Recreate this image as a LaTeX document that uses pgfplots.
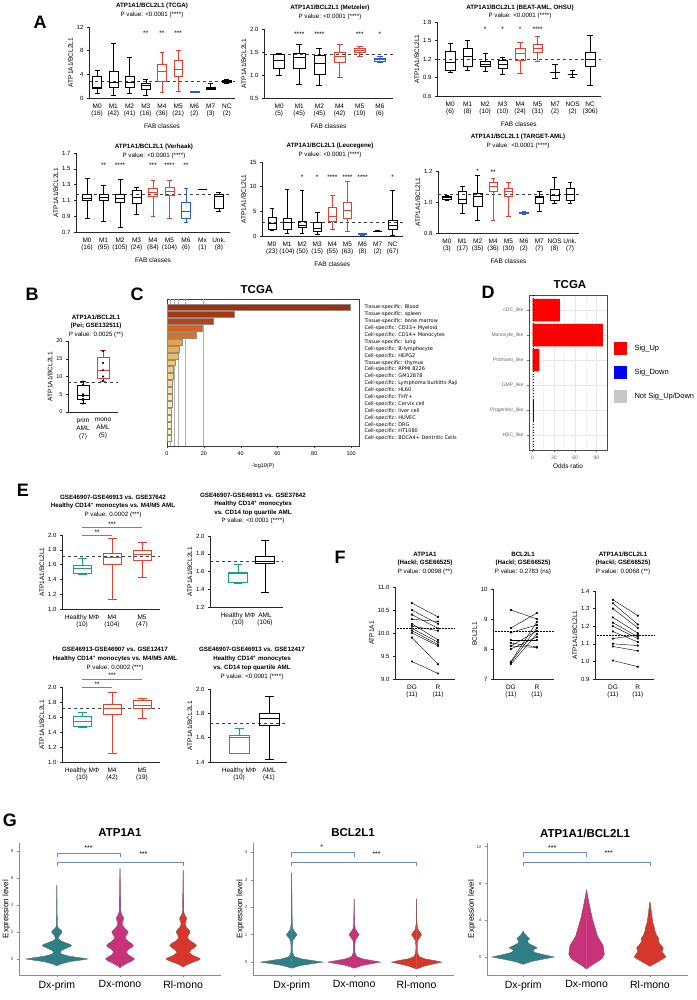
\documentclass[border=0pt]{standalone}
\usepackage{fontspec}
\setmainfont{Liberation Sans}
\newfontfamily\dv{DejaVu Sans}
\usepackage{pgfplots}
\usepackage{pgfplotstable}
\pgfplotsset{compat=1.18}
\usepgfplotslibrary{statistics}

\definecolor{gpred}{RGB}{236,60,45}
\definecolor{gpblue}{RGB}{40,90,235}
\definecolor{gpgreen}{RGB}{30,160,120}
\definecolor{vteal}{RGB}{46,128,134}
\definecolor{vmag}{RGB}{200,50,122}
\definecolor{vred}{RGB}{214,55,42}
\definecolor{brk}{RGB}{105,140,200}

\newcommand{\fs}[2]{\fontsize{#1}{#2}\selectfont}
% box: colour, position, lower whisker, lower quartile, median, upper quartile, upper whisker
\newcommand{\bx}[7]{\addplot[#1, line width=0.5pt, boxplot prepared={draw direction=y, draw position=#2, lower whisker=#3, lower quartile=#4, median=#5, upper quartile=#6, upper whisker=#7}] coordinates {};}
\newcommand{\st}[3]{\node[font=\fs{6.5}{7}] at (axis cs:#1,#2) {#3};}
\newcommand{\refl}[3]{\addplot[black!75, dashed, line width=0.4pt] coordinates {(#1,#3) (#2,#3)};}
\newcommand{\pair}[2]{\addplot[black, line width=0.4pt, mark=*, mark size=0.9pt] coordinates {(0,#1) (1,#2)};}
\newcommand{\cb}[5]{\addplot[xbar, bar width=0.85, bar shift=0pt, fill={rgb,255:red,#3;green,#4;blue,#5}, draw=black!45, line width=0.25pt] coordinates {(#2,-#1)};}
\newcommand{\vio}[3]{%
  \addplot[fill=#2, draw=#2, line width=0.2pt] table[x expr=#1+\thisrow{w}, y=y] {#3} -- cycle;
  \addplot[fill=#2, draw=#2, line width=0.2pt] table[x expr=#1-\thisrow{w}, y=y] {#3} -- cycle;
  \addplot[black!60, line width=0.25pt] table[x expr=#1+\thisrow{w}, y=y] {#3};
  \addplot[black!60, line width=0.25pt] table[x expr=#1-\thisrow{w}, y=y] {#3};}
\newcommand{\tl}[3]{\node[font=\bfseries\fs{6.2}{7}] at (#1pt,-#2pt) {#3};}
\newcommand{\tp}[3]{\node[font=\fs{6.2}{7}] at (#1pt,-#2pt) {#3};}

\pgfplotsset{
  gp/.style={
    scale only axis, clip=false, anchor=south west,
    axis x line*=bottom, axis y line*=left,
    axis line style={-, line width=0.5pt, black!85},
    tick align=outside, major tick length=2pt,
    xtick style={draw=none}, ytick style={line width=0.5pt, black!85},
    /pgf/number format/assume math mode=true,
    tick label style={font=\fs{6}{7}},
    xticklabel style={align=center, font=\fs{6.5}{7.6}},
    label style={font=\fs{6.5}{7.5}}, ylabel shift=-3pt,
    boxplot/draw direction=y, boxplot/box extend=0.55, boxplot/whisker extend=0.3,
  },
  dec/.style={yticklabel style={/pgf/number format/.cd, fixed, fixed zerofill, precision=#1}},
  gg/.style={
    scale only axis, clip=false, anchor=south west,
    axis x line*=bottom, axis y line*=left,
    axis line style={-, black!45, line width=0.6pt},
    tick align=outside, major tick length=2pt, tick style={black!45, line width=0.5pt},
    /pgf/number format/assume math mode=true,
    yticklabel style={font=\fs{4.5}{5}, text=black!70},
    xticklabel style={font=\fs{10.5}{12}},
    ylabel={Expression level}, ylabel style={font=\fs{8}{9}}, ylabel shift=-6pt,
    xtick={0,1,2}, xticklabels={Dx-prim,Dx-mono,Rl-mono}, xmin=-0.6, xmax=2.6,
  },
}

% violin half-widths (y, w)
\pgfplotstableread{
y w
-0.5 0
-0.35 0.08
-0.2 0.2
-0.08 0.38
0 0.49
0.08 0.38
0.2 0.2
0.35 0.08
0.5 0.05
0.65 0.08
0.8 0.15
0.92 0.21
1.0 0.23
1.08 0.21
1.2 0.14
1.35 0.06
1.5 0.025
1.65 0.03
1.8 0.05
1.92 0.075
2.0 0.08
2.08 0.075
2.2 0.045
2.35 0.015
2.6 0.006
2.9 0.005
3.0 0.009
3.1 0.005
3.5 0.003
4.5 0.002
5.5 0
}\gAa
\pgfplotstableread{
y w
-0.65 0
-0.5 0.04
-0.3 0.12
-0.12 0.2
0 0.23
0.12 0.2
0.3 0.13
0.5 0.1
0.7 0.13
0.88 0.19
1.0 0.21
1.12 0.19
1.3 0.13
1.5 0.09
1.7 0.09
1.88 0.12
2.0 0.13
2.12 0.11
2.3 0.07
2.5 0.04
2.7 0.035
2.88 0.05
3.0 0.058
3.12 0.05
3.3 0.025
3.6 0.01
4.0 0.008
4.3 0.012
4.6 0.006
5.5 0.004
6.7 0
}\gAb
\pgfplotstableread{
y w
-0.6 0
-0.45 0.05
-0.25 0.15
-0.1 0.24
0 0.27
0.1 0.24
0.25 0.16
0.45 0.1
0.65 0.12
0.85 0.18
1.0 0.21
1.15 0.18
1.35 0.11
1.55 0.07
1.75 0.08
1.9 0.1
2.0 0.11
2.1 0.1
2.3 0.06
2.5 0.035
2.7 0.035
2.88 0.05
3.0 0.055
3.12 0.045
3.3 0.02
3.6 0.008
4.0 0.006
4.2 0.01
4.5 0.005
5.5 0.003
6.6 0
}\gAc
\pgfplotstableread{
y w
-0.22 0
-0.12 0.15
-0.05 0.35
0 0.5
0.05 0.35
0.12 0.15
0.2 0.04
0.35 0.012
0.6 0.01
0.8 0.02
0.9 0.05
1.0 0.085
1.1 0.05
1.2 0.02
1.4 0.008
2.0 0.005
2.6 0.003
3.25 0
}\gBa
\pgfplotstableread{
y w
-0.22 0
-0.12 0.13
-0.05 0.3
0 0.42
0.05 0.3
0.12 0.13
0.2 0.04
0.35 0.012
0.6 0.01
0.8 0.02
0.9 0.05
1.0 0.08
1.1 0.05
1.2 0.02
1.4 0.006
1.8 0.004
2.3 0
}\gBb
\pgfplotstableread{
y w
-0.25 0
-0.14 0.13
-0.05 0.3
0 0.4
0.05 0.3
0.12 0.13
0.2 0.04
0.35 0.012
0.6 0.01
0.8 0.02
0.9 0.05
1.0 0.08
1.1 0.05
1.2 0.02
1.4 0.006
1.8 0.004
2.3 0
}\gBc
\pgfplotstableread{
y w
-0.8 0
-0.5 0.12
-0.25 0.3
0 0.49
0.25 0.32
0.5 0.18
0.75 0.15
1.0 0.22
1.25 0.15
1.5 0.08
1.75 0.07
2.0 0.1
2.25 0.06
2.5 0.025
2.8 0
}\gCa
\pgfplotstableread{
y w
-1.3 0
-1.0 0.06
-0.6 0.15
-0.2 0.24
0.3 0.28
0.8 0.27
1.3 0.26
1.8 0.21
2.3 0.17
2.8 0.15
3.5 0.12
4.2 0.09
5.0 0.065
6.0 0.035
7.3 0
}\gCb
\pgfplotstableread{
y w
-1.0 0
-0.7 0.08
-0.3 0.18
0 0.25
0.3 0.22
0.6 0.19
1.0 0.21
1.3 0.17
1.7 0.13
2.0 0.14
2.4 0.1
2.8 0.08
3.2 0.07
3.6 0.05
4.2 0.035
5.0 0.02
6.0 0
}\gCc

\begin{document}
\begin{tikzpicture}
\path[use as bounding box] (0pt,0pt) rectangle (696pt,-1000pt);

% panel letters
\node[font=\bfseries\fs{18}{20}] at (40pt,-22pt) {A};
\node[font=\bfseries\fs{18}{20}] at (32pt,-294pt) {B};
\node[font=\bfseries\fs{18}{20}] at (137pt,-294pt) {C};
\node[font=\bfseries\fs{18}{20}] at (488pt,-292pt) {D};
\node[font=\bfseries\fs{18}{20}] at (23pt,-490pt) {E};
\node[font=\bfseries\fs{18}{20}] at (340pt,-557pt) {F};
\node[font=\bfseries\fs{18}{20}] at (10pt,-820pt) {G};

% ---------- A ----------
\tl{152}{6}{ATP1A1/BCL2L1 (TCGA)}
\tp{152}{15}{P value: <0.0001 (****)}
\begin{axis}[gp, at={(89pt,-98pt)}, width=146pt, height=71pt,
  xmin=-0.5, xmax=8.5, ymin=0, ymax=12, ytick={0,4,8,12},
  xtick={0,...,8}, xticklabels={{M0\\(16)},{M1\\(42)},{M2\\(41)},{M3\\(16)},{M4\\(36)},{M5\\(21)},{M6\\(2)},{M7\\(3)},{NC\\(2)}},
  xlabel={FAB classes}, ylabel={ATP1A1/BCL2L1}]
\refl{-0.5}{8.5}{2.9}
\bx{black}{0}{0.8}{1.6}{1.9}{3.7}{4.7}
\bx{black}{1}{0.5}{1.8}{2.7}{4.6}{9.2}
\bx{black}{2}{0.8}{1.9}{2.6}{3.6}{6.9}
\bx{black}{3}{0.5}{1.5}{2.1}{2.5}{3.1}
\bx{gpred}{4}{0.9}{2.8}{4.5}{5.7}{7.7}
\bx{gpred}{5}{1.1}{3.6}{4.8}{6.4}{8.0}
\bx{gpblue}{6}{1.0}{1.05}{1.1}{1.15}{1.2}
\bx{black}{7}{1.4}{1.5}{1.7}{1.9}{2.5}
\bx{black}{8}{2.5}{2.6}{2.8}{3.0}{3.1}
\st{3}{11}{**}\st{4}{11}{**}\st{5}{11}{***}
\end{axis}

\tl{330}{8}{ATP1A1/BCL2L1 (Metzeler)}
\tp{330}{17}{P value: <0.0001 (****)}
\begin{axis}[gp, dec=1, at={(264pt,-98pt)}, width=129pt, height=69pt,
  xmin=-0.75, xmax=5.65, ymin=0.5, ymax=2, ytick={0.5,1.0,1.5,2.0},
  xtick={0,...,5}, xticklabels={{M0\\(5)},{M1\\(45)},{M2\\(45)},{M4\\(42)},{M5\\(19)},{M6\\(6)}},
  xlabel={FAB classes}, ylabel={ATP1A1/BCL2L1}]
\refl{-0.75}{5.65}{1.45}
\bx{black}{0}{1.0}{1.15}{1.31}{1.45}{1.47}
\bx{black}{1}{0.8}{1.15}{1.38}{1.48}{1.67}
\bx{black}{2}{0.78}{1.02}{1.25}{1.43}{1.58}
\bx{gpred}{3}{0.95}{1.27}{1.40}{1.50}{1.67}
\bx{gpred}{4}{1.40}{1.50}{1.53}{1.58}{1.62}
\bx{gpblue}{5}{1.28}{1.30}{1.34}{1.37}{1.41}
\st{1}{1.88}{****}\st{2}{1.88}{****}\st{4}{1.88}{***}\st{5}{1.88}{*}
\end{axis}

\tl{520}{8}{ATP1A1/BCL2L1 (BEAT-AML, OHSU)}
\tp{520}{16}{P value: <0.0001 (****)}
\begin{axis}[gp, dec=1, at={(437pt,-96pt)}, width=163.6pt, height=74pt,
  xmin=-0.75, xmax=8.6, ymin=0.6, ymax=1.8, ytick={0.6,0.9,1.2,1.5,1.8},
  xtick={0,...,8}, xticklabels={{M0\\(6)},{M1\\(8)},{M2\\(10)},{M3\\(10)},{M4\\(24)},{M5\\(31)},{M7\\(2)},{NOS\\(2)},{NC\\(306)}},
  xlabel={FAB classes}, ylabel={ATP1A1/BCL2L1}]
\refl{-0.75}{8.6}{1.2}
\bx{black}{0}{0.98}{1.02}{1.14}{1.33}{1.45}
\bx{black}{1}{1.02}{1.08}{1.24}{1.38}{1.51}
\bx{black}{2}{1.0}{1.08}{1.12}{1.16}{1.29}
\bx{black}{3}{0.96}{1.05}{1.11}{1.18}{1.23}
\bx{gpred}{4}{0.97}{1.18}{1.30}{1.37}{1.47}
\bx{gpred}{5}{1.16}{1.31}{1.37}{1.44}{1.57}
\bx{black}{6}{0.88}{0.99}{0.99}{0.99}{1.11}
\bx{black}{7}{0.90}{0.96}{0.96}{0.96}{1.02}
\bx{black}{8}{0.78}{1.09}{1.20}{1.31}{1.59}
\st{2}{1.69}{*}\st{3}{1.69}{*}\st{4}{1.69}{*}\st{5}{1.69}{****}
\end{axis}

\tl{154}{147}{ATP1A1/BCL2L1 (Verhaak)}
\tp{154}{156}{P value: <0.0001 (****)}
\begin{axis}[gp, dec=1, at={(76pt,-232pt)}, width=154pt, height=79pt,
  xmin=-0.67, xmax=8.67, ymin=0.7, ymax=1.7, ytick={0.7,0.9,1.1,1.3,1.5,1.7},
  xtick={0,...,8}, xticklabels={{M0\\(16)},{M1\\(95)},{M2\\(105)},{M3\\(24)},{M4\\(84)},{M5\\(104)},{M6\\(6)},{Mx\\(1)},{Unk.\\(8)}},
  xlabel={FAB classes}, ylabel={ATP1A1/BCL2L1}]
\refl{-0.67}{8.67}{1.18}
\bx{black}{0}{0.87}{1.10}{1.13}{1.18}{1.38}
\bx{black}{1}{0.83}{1.10}{1.14}{1.18}{1.29}
\bx{black}{2}{0.76}{1.08}{1.13}{1.18}{1.37}
\bx{black}{3}{0.92}{1.06}{1.14}{1.23}{1.27}
\bx{gpred}{4}{0.90}{1.15}{1.20}{1.25}{1.36}
\bx{gpred}{5}{0.88}{1.16}{1.21}{1.27}{1.35}
\bx{gpblue}{6}{0.82}{0.88}{0.96}{1.08}{1.25}
\bx{black}{7}{1.24}{1.24}{1.24}{1.24}{1.24}
\bx{black}{8}{0.96}{1.00}{1.15}{1.18}{1.20}
\st{1}{1.54}{**}\st{2}{1.54}{****}\st{4}{1.54}{***}\st{5}{1.54}{****}\st{6}{1.54}{**}
\end{axis}

\tl{330}{146}{ATP1A1/BCL2L1 (Leucegene)}
\tp{330}{155}{P value: <0.0001 (****)}
\begin{axis}[gp, at={(262pt,-236pt)}, width=140.7pt, height=74pt,
  xmin=-0.66, xmax=8.66, ymin=0, ymax=15, ytick={0,5,10,15},
  xtick={0,...,8}, xticklabels={{M0\\(23)},{M1\\(104)},{M2\\(50)},{M3\\(15)},{M4\\(55)},{M5\\(63)},{M6\\(8)},{M7\\(2)},{NC\\(67)}},
  xlabel={FAB classes}, ylabel={ATP1A1/BCL2L1}]
\refl{-0.66}{8.66}{2.7}
\bx{black}{0}{1.2}{1.4}{2.6}{3.9}{5.6}
\bx{black}{1}{0.5}{1.4}{2.7}{3.6}{9.5}
\bx{black}{2}{0.5}{1.8}{2.2}{2.9}{9.3}
\bx{black}{3}{0.4}{0.9}{1.6}{2.8}{4.9}
\bx{gpred}{4}{1.4}{2.9}{4.0}{5.8}{8.3}
\bx{gpred}{5}{0.9}{3.5}{5.3}{6.8}{11.0}
\bx{gpblue}{6}{0.2}{0.3}{0.4}{0.5}{0.6}
\bx{black}{7}{0.9}{1.0}{1.0}{1.0}{1.1}
\bx{black}{8}{0.2}{1.4}{2.2}{3.2}{9.3}
\st{2}{12}{*}\st{3}{12}{*}\st{4}{12}{****}\st{5}{12}{****}\st{6}{12}{****}\st{8}{12}{*}
\end{axis}

\tl{518}{137}{ATP1A1/BCL2L1 (TARGET-AML)}
\tp{518}{146}{P value: <0.0001 (****)}
\begin{axis}[gp, dec=1, at={(438pt,-233pt)}, width=141pt, height=62pt,
  xmin=-0.58, xmax=8.58, ymin=0.8, ymax=1.2, ytick={0.8,1.0,1.2},
  xtick={0,...,8}, xticklabels={{M0\\(3)},{M1\\(17)},{M2\\(35)},{M4\\(36)},{M5\\(30)},{M6\\(2)},{M7\\(7)},{NOS\\(8)},{Unk.\\(7)}},
  xlabel={FAB classes}, ylabel={ATP1A1/BCL2L1}]
\refl{-0.58}{8.58}{1.05}
\bx{black}{0}{1.01}{1.02}{1.03}{1.04}{1.045}
\bx{black}{1}{0.93}{0.99}{1.02}{1.07}{1.10}
\bx{black}{2}{0.88}{0.97}{1.04}{1.055}{1.17}
\bx{gpred}{3}{0.88}{1.07}{1.10}{1.125}{1.155}
\bx{gpred}{4}{0.91}{1.04}{1.07}{1.09}{1.13}
\bx{gpblue}{5}{0.92}{0.925}{0.93}{0.935}{0.94}
\bx{black}{6}{0.94}{0.99}{1.03}{1.04}{1.07}
\bx{black}{7}{0.99}{1.01}{1.045}{1.08}{1.16}
\bx{black}{8}{0.99}{1.01}{1.05}{1.09}{1.13}
\st{2}{1.2}{*}\st{3}{1.195}{**}
\end{axis}

% ---------- B ----------
\tl{96}{317}{ATP1A1/BCL2L1}
\tl{96}{326}{(Pei; GSE132511)}
\tp{96}{335}{P value: 0.0025 (**)}
\begin{axis}[gp, at={(68pt,-412pt)}, width=50pt, height=71pt,
  xmin=-0.75, xmax=1.75, ymin=0, ymax=20, ytick={0,5,10,15,20},
  tick label style={font=\fs{5.5}{6.5}},
  xtick={0,1}, xticklabels={{prim\\AML\\(7)},{mono\\AML\\(5)}},
  xticklabel style={font=\fs{6.5}{8}},
  ylabel={ATP1A1/BCL2L1}, boxplot/box extend=0.6]
\refl{-0.75}{1.75}{8.3}
\bx{black}{0}{2.4}{3.6}{4.8}{7.6}{8.8}
\bx{gpred}{1}{8.6}{9.6}{11.8}{15.3}{17.3}
\addplot[only marks, mark=*, mark size=0.8pt, black] coordinates {(0,8.6) (0,7.6) (0,5.0) (0,4.5) (0,3.7) (0,3.4) (0,2.4) (1,17.2) (1,13.8) (1,11.8) (1,10.0) (1,8.8)};
\end{axis}

% ---------- C ----------
\node[font=\bfseries\fs{11.5}{13}] at (257pt,-290pt) {TCGA};
\begin{axis}[scale only axis, anchor=south west, at={(167pt,-446pt)}, width=192pt, height=147pt,
  xmin=0, xmax=104.3, ymin=-20.09, ymax=1.23, clip=false,
  axis line style={black!75, line width=0.6pt},
  xtick={0,20,40,60,80,100}, xtick pos=bottom, tick align=outside, major tick length=2pt, xtick style={black!75},
  ytick={-19,...,0}, yticklabel pos=right, ytick style={draw=none},
  yticklabels={{Cell-specific: BDCA4+ Dentritic Cells},{Cell-specific: HT1080},{Cell-specific: DRG},{Cell-specific: HUVEC},{Cell-specific: liver cell},{Cell-specific: Cervix cell},{Cell-specific: THY+},{Cell-specific: HL60},{Cell-specific: Lymphoma burkitts Raji},{Cell-specific: GM12878},{Cell-specific: RPMI 8226},{Tissue-specific: thymus},{Cell-specific: HEPG2},{Cell-specific: B-lymphocyte},{Tissue-specific: lung},{Cell-specific: CD14+ Monocytes},{Cell-specific: CD33+ Myeloid},{Tissue-specific: bone marrow},{Tissue-specific: spleen},{Tissue-specific: Blood}},
  yticklabel style={anchor=west, font=\dv\fs{5}{6}},
  xticklabel style={font=\fs{5.5}{6}},
  /pgf/number format/assume math mode=true,
  xlabel={-log10(P)}, xlabel style={font=\fs{5.5}{6}, yshift=3pt},
  extra x ticks={2,4,6,10,20}, extra x tick labels={}, extra x tick style={grid=major, tick style={draw=none}},
  major grid style={black!30, line width=0.7pt}]
\cb{0}{99.7}{160}{48}{10}
\cb{1}{36.6}{166}{54}{14}
\cb{2}{25.2}{178}{68}{20}
\cb{3}{19.2}{214}{98}{28}
\cb{4}{15.6}{222}{110}{32}
\cb{5}{8.0}{240}{160}{62}
\cb{6}{6.5}{243}{172}{76}
\cb{7}{5.8}{245}{184}{92}
\cb{8}{4.3}{246}{196}{108}
\cb{9}{3.4}{247}{204}{120}
\cb{10}{3.1}{248}{212}{134}
\cb{11}{2.9}{248}{218}{146}
\cb{12}{2.8}{249}{224}{156}
\cb{13}{2.7}{249}{228}{164}
\cb{14}{2.6}{250}{232}{172}
\cb{15}{2.5}{250}{235}{178}
\cb{16}{2.4}{250}{237}{184}
\cb{17}{2.3}{251}{239}{188}
\cb{18}{2.2}{251}{241}{192}
\cb{19}{2.1}{251}{243}{196}
\end{axis}

% ---------- D ----------
\node[font=\bfseries\fs{11.5}{13}] at (570pt,-285pt) {TCGA};
\begin{axis}[scale only axis, anchor=south west, at={(529pt,-450pt)}, width=78pt, height=155pt,
  xmin=-5, xmax=105, ymin=-5.6, ymax=0.6, clip=false,
  axis line style={black!70, line width=0.5pt},
  xtick={0,30,60,90}, minor xtick={15,45,75}, ytick={-5,...,0},
  yticklabels={HSC\_like,Progenitor\_like,GMP\_like,Promono\_like,Monocyte\_like,cDC\_like},
  grid=both, major grid style={black!9, line width=0.5pt}, minor grid style={black!5, line width=0.3pt},
  tick align=outside, major tick length=2pt, minor tick length=0pt, tick style={black!55, line width=0.4pt},
  xtick pos=bottom, ytick pos=left,
  tick label style={font=\fs{5}{6}, text=black!60},
  /pgf/number format/assume math mode=true,
  xlabel={Odds ratio}, xlabel style={font=\fs{6.5}{7}, yshift=2pt}]
\addplot[xbar, bar width=0.9, bar shift=0pt, fill=red, draw=none] coordinates {(38.7,0) (99,-1) (9.5,-2)};
\addplot[xbar, bar width=0.9, bar shift=0pt, fill=blue, draw=none] coordinates {(1.5,-4)};
\addplot[xbar, bar width=0.9, bar shift=0pt, fill=black!22, draw=none] coordinates {(0.5,-3) (0.5,-5)};
\addplot[black, dotted, line width=0.8pt] coordinates {(1,-5.6) (1,0.6)};
\end{axis}
\fill[red] (614pt,-342pt) rectangle (627pt,-355pt);
\node[anchor=west, font=\fs{7.5}{8}] at (631pt,-348.5pt) {Sig\_Up};
\fill[blue] (614pt,-366pt) rectangle (627pt,-379pt);
\node[anchor=west, font=\fs{7.5}{8}] at (631pt,-372.5pt) {Sig\_Down};
\fill[black!22] (614pt,-390pt) rectangle (627pt,-403pt);
\node[anchor=west, font=\fs{7.5}{8}] at (631pt,-396.5pt) {Not Sig\_Up/Down};

% ---------- E ----------
\tl{113}{497}{GSE46907-GSE46913 vs. GSE37642}
\tl{113}{506}{Healthy CD14\textsuperscript{+} monocytes vs. M4/M5 AML}
\tp{113}{515}{P value: 0.0002 (***)}
\begin{axis}[gp, dec=1, at={(62pt,-609pt)}, width=98pt, height=74pt,
  xmin=-0.67, xmax=2.6, ymin=1, ymax=2, ytick={1.0,1.2,1.4,1.6,1.8,2.0},
  xtick={0,1,2}, xticklabels={{Healthy MΦ\\(10)},{M4\\(104)},{M5\\(47)}},
  ylabel={ATP1A1/BCL2L1}, boxplot/box extend=0.6]
\refl{-0.67}{2.6}{1.72}
\bx{gpgreen}{0}{1.47}{1.48}{1.55}{1.59}{1.69}
\bx{gpred}{1}{1.13}{1.61}{1.70}{1.76}{1.96}
\bx{gpred}{2}{1.43}{1.66}{1.74}{1.80}{1.90}
\addplot[black!50, line width=0.5pt] coordinates {(0,2.11) (2,2.11)};
\addplot[black!50, line width=0.5pt] coordinates {(0,2.0) (1,2.0)};
\st{1}{2.15}{***}\st{0.5}{2.04}{**}
\end{axis}

\tl{253}{495}{GSE46907-GSE46913 vs. GSE37642}
\tl{253}{504}{Healthy CD14\textsuperscript{+} monocytes}
\tl{253}{513}{vs. CD14 top quartile AML}
\tp{253}{521}{P value: <0.0001 (****)}
\begin{axis}[gp, dec=1, at={(210pt,-607pt)}, width=73pt, height=71pt,
  xmin=-1.04, xmax=1.67, ymin=1.2, ymax=2.0, ytick={1.2,1.4,1.6,1.8,2.0},
  xtick={0,1}, xticklabels={{Healthy MΦ\\(10)},{AML\\(106)}},
  ylabel={ATP1A1/BCL2L1}, boxplot/box extend=0.7]
\refl{-1.04}{1.67}{1.72}
\bx{gpgreen}{0}{1.47}{1.475}{1.58}{1.59}{1.68}
\bx{black}{1}{1.37}{1.69}{1.72}{1.775}{1.95}
\end{axis}

\tl{115}{649}{GSE46913-GSE46907 vs. GSE12417}
\tl{115}{659}{Healthy CD14\textsuperscript{+} monocytes vs. M4/M5 AML}
\tp{115}{668}{P value: 0.0002 (***)}
\begin{axis}[gp, dec=1, at={(62pt,-762pt)}, width=98pt, height=75pt,
  xmin=-0.67, xmax=2.6, ymin=1, ymax=2, ytick={1.0,1.2,1.4,1.6,1.8,2.0},
  xtick={0,1,2}, xticklabels={{Healthy MΦ\\(10)},{M4\\(42)},{M5\\(19)}},
  ylabel={ATP1A1/BCL2L1}, boxplot/box extend=0.6]
\refl{-0.67}{2.6}{1.72}
\bx{gpgreen}{0}{1.47}{1.48}{1.55}{1.61}{1.67}
\bx{gpred}{1}{1.12}{1.64}{1.72}{1.77}{1.93}
\bx{gpred}{2}{1.58}{1.72}{1.76}{1.82}{1.85}
\addplot[black!50, line width=0.5pt] coordinates {(0,2.11) (2,2.11)};
\addplot[black!50, line width=0.5pt] coordinates {(0,2.0) (1,2.0)};
\st{1}{2.15}{***}\st{0.5}{2.04}{**}
\end{axis}

\tl{252}{649}{GSE46907-GSE46913 vs. GSE12417}
\tl{252}{659}{Healthy CD14\textsuperscript{+} monocytes}
\tl{252}{668}{vs. CD14 top quartile AML}
\tp{252}{677}{P value: <0.0001 (****)}
\begin{axis}[gp, dec=1, at={(210pt,-762pt)}, width=77pt, height=73pt,
  xmin=-0.97, xmax=1.6, ymin=1.4, ymax=2.0, ytick={1.4,1.6,1.8,2.0},
  xtick={0,1}, xticklabels={{Healthy MΦ\\(10)},{AML\\(41)}},
  ylabel={ATP1A1/BCL2L1}, boxplot/box extend=0.65]
\refl{-0.97}{1.6}{1.72}
\bx{gpgreen}{0}{1.47}{1.47}{1.60}{1.62}{1.68}
\bx{black}{1}{1.42}{1.70}{1.76}{1.80}{1.94}
\end{axis}

% ---------- F ----------
\tl{425}{554}{ATP1A1}
\tl{425}{563}{(Hackl; GSE66525)}
\tp{425}{572}{P value: 0.0098 (**)}
\begin{axis}[gp, dec=1, at={(395pt,-679pt)}, width=60pt, height=92pt,
  xmin=-0.65, xmax=1.65, ymin=9, ymax=11, ytick={9.0,9.5,10.0,10.5,11.0},
  xtick={0,1}, xticklabels={{DG\\(11)},{R\\(11)}}, ylabel={ATP1A1}]
\addplot[black, densely dotted, line width=0.5pt] coordinates {(-0.65,10.1) (1.65,10.1)};
\pair{10.65}{10.35}\pair{10.5}{10.2}\pair{10.4}{10.1}\pair{10.3}{10.25}
\pair{10.2}{9.85}\pair{10.15}{10.05}\pair{10.1}{9.8}\pair{10.05}{9.75}
\pair{10.0}{9.72}\pair{9.9}{9.32}\pair{9.38}{9.12}
\end{axis}

\tl{523}{554}{BCL2L1}
\tl{523}{563}{(Hackl; GSE66525)}
\tp{523}{572}{P value: 0.2783 (ns)}
\begin{axis}[gp, at={(493pt,-679pt)}, width=60.7pt, height=90pt,
  xmin=-0.69, xmax=1.65, ymin=7, ymax=10, ytick={7,8,9,10},
  xtick={0,1}, xticklabels={{DG\\(11)},{R\\(11)}}, ylabel={BCL2L1}]
\addplot[black, densely dotted, line width=0.5pt] coordinates {(-0.69,8.6) (1.65,8.6)};
\pair{9.3}{9.0}\pair{8.7}{9.2}\pair{8.55}{8.8}\pair{8.2}{8.07}
\pair{8.1}{8.05}\pair{8.1}{8.6}\pair{8.0}{8.4}\pair{7.58}{8.9}
\pair{7.55}{8.7}\pair{7.5}{8.5}\pair{8.3}{8.3}
\end{axis}

\tl{623}{554}{ATP1A1/BCL2L1}
\tl{623}{563}{(Hackl; GSE66525)}
\tp{623}{572}{P value: 0.0068 (**)}
\begin{axis}[gp, dec=1, at={(595pt,-679pt)}, width=59pt, height=88pt,
  xmin=-0.72, xmax=1.65, ymin=0.9, ymax=1.4, ytick={0.9,1.0,1.1,1.2,1.3,1.4},
  xtick={0,1}, xticklabels={{DG\\(11)},{R\\(11)}}, ylabel={ATP1A1/BCL2L1}]
\addplot[black, densely dotted, line width=0.5pt] coordinates {(-0.72,1.15) (1.65,1.15)};
\pair{1.35}{1.26}\pair{1.33}{1.21}\pair{1.3}{1.19}\pair{1.25}{1.16}
\pair{1.22}{1.14}\pair{1.2}{1.13}\pair{1.17}{1.11}\pair{1.13}{1.15}
\pair{1.1}{1.09}\pair{1.085}{1.06}\pair{1.005}{0.97}
\end{axis}

% ---------- G ----------
\node[font=\bfseries\fs{11.5}{13}] at (120pt,-833pt) {ATP1A1};
\begin{axis}[gg, at={(19pt,-975pt)}, width=202pt, height=132pt,
  ymin=-1.19, ymax=8.6, ytick={0,2,4,6,8}]
\vio{0}{vteal}{\gAa}
\vio{1}{vmag}{\gAb}
\vio{2}{vred}{\gAc}
\addplot[brk, line width=0.6pt] coordinates {(0,7.58) (0,7.87) (1,7.87) (1,7.58)};
\addplot[brk, line width=0.6pt] coordinates {(0,6.89) (0,7.19) (2,7.19) (2,6.89)};
\node[font=\fs{7}{8}] at (axis cs:0.5,8.25) {***};
\node[font=\fs{7}{8}] at (axis cs:1.37,7.8) {***};
\end{axis}

\node[font=\bfseries\fs{11.5}{13}] at (353pt,-833pt) {BCL2L1};
\begin{axis}[gg, at={(253pt,-975pt)}, width=201pt, height=132pt,
  xmin=-0.62, ymin=-0.47, ymax=4.34, ytick={0,1,2,3,4}]
\vio{0}{vteal}{\gBa}
\vio{1}{vmag}{\gBb}
\vio{2}{vred}{\gBc}
\addplot[brk, line width=0.6pt] coordinates {(0,3.84) (0,3.99) (1,3.99) (1,3.84)};
\addplot[brk, line width=0.6pt] coordinates {(0,3.5) (0,3.65) (2,3.65) (2,3.5)};
\node[font=\fs{7}{8}] at (axis cs:0.48,4.18) {*};
\node[font=\fs{7}{8}] at (axis cs:1.36,3.95) {***};
\end{axis}

\node[font=\bfseries\fs{11.5}{13}] at (585pt,-833pt) {ATP1A1/BCL2L1};
\begin{axis}[gg, at={(487pt,-975pt)}, width=201pt, height=132pt,
  xmin=-0.57, ymin=-1.96, ymax=12.4, ytick={0,4,8,12}]
\vio{0}{vteal}{\gCa}
\vio{1}{vmag}{\gCb}
\vio{2}{vred}{\gCc}
\addplot[brk, line width=0.6pt] coordinates {(0,10.9) (0,11.34) (1,11.34) (1,10.9)};
\addplot[brk, line width=0.6pt] coordinates {(0,9.89) (0,10.33) (2,10.33) (2,9.89)};
\node[font=\fs{7}{8}] at (axis cs:0.46,11.9) {***};
\node[font=\fs{7}{8}] at (axis cs:1.35,11.25) {***};
\end{axis}

\end{tikzpicture}
\end{document}
